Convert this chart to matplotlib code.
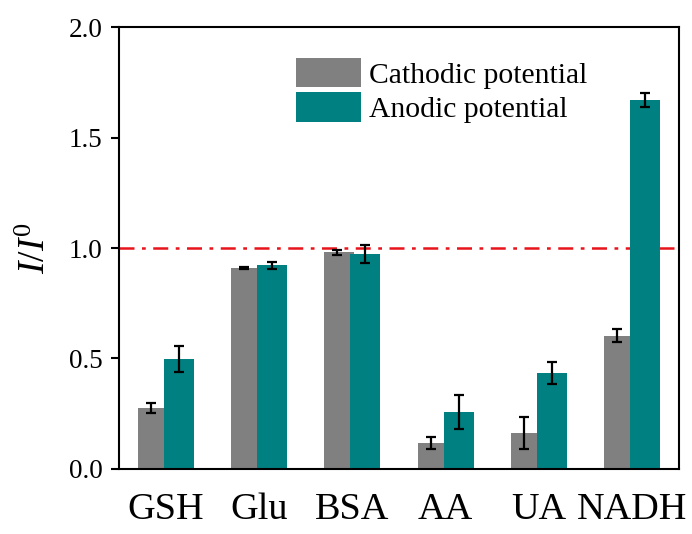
import matplotlib
matplotlib.use('Agg')
import matplotlib.pyplot as plt
import numpy as np

plt.rcParams['font.family'] = ['Liberation Serif', 'DejaVu Serif']
plt.rcParams['mathtext.fontset'] = 'custom'
plt.rcParams['mathtext.it'] = 'Liberation Serif:italic'
plt.rcParams['mathtext.rm'] = 'Liberation Serif'

# data
categories = ['GSH', 'Glu', 'BSA', 'AA', 'UA', 'NADH']
cathodic = [0.276, 0.910, 0.980, 0.117, 0.162, 0.603]
cathodic_err = [0.022, 0.005, 0.012, 0.026, 0.074, 0.030]
anodic = [0.498, 0.922, 0.973, 0.257, 0.433, 1.671]
anodic_err = [0.058, 0.015, 0.043, 0.076, 0.049, 0.031]

x = np.arange(len(categories))

fig = plt.figure(figsize=(6.92, 5.34), dpi=100)
ax = fig.add_axes([0.172, 0.122, 0.809, 0.827])

ax.bar(x - 0.14, cathodic, width=0.32, color='#808080', label='Cathodic potential')
ax.bar(x + 0.14, anodic, width=0.32, color='#008080', label='Anodic potential')
ax.errorbar(x - 0.16, cathodic, yerr=cathodic_err, fmt='none', ecolor='black',
            elinewidth=1.6, capsize=3.5, capthick=1.6)
ax.errorbar(x + 0.14, anodic, yerr=anodic_err, fmt='none', ecolor='black',
            elinewidth=1.6, capsize=3.5, capthick=1.6)

ax.axhline(1.0, color='#e8141c', lw=1.8, ls=(0, (6, 3, 1.5, 3)), zorder=0.5)

ax.set_xlim(-0.5, 5.5)
ax.set_ylim(0, 2.0)
ax.set_yticks([0.0, 0.5, 1.0, 1.5, 2.0])
ax.set_yticklabels(['0.0', '0.5', '1.0', '1.5', '2.0'], fontsize=19.5)
ax.set_xticks(x)
ax.set_xticklabels(categories, fontsize=27.5)
ax.tick_params(axis='x', length=0, pad=17)
ax.tick_params(axis='y', direction='out', length=6, width=1.5, pad=6)
for s in ax.spines.values():
    s.set_linewidth(1.5)

ax.set_ylabel(r'$I/I^{\mathit{0}}$', fontsize=27, labelpad=11)

ax.legend(loc='upper left', bbox_to_anchor=(296 / 692, 1 - 58 / 534),
          bbox_transform=fig.transFigure, frameon=False, fontsize=21.3,
          handlelength=2.2, handleheight=1.15, handletextpad=0.28,
          labelspacing=0.12, borderpad=0, borderaxespad=0)

plt.savefig('out.png', dpi=100)
